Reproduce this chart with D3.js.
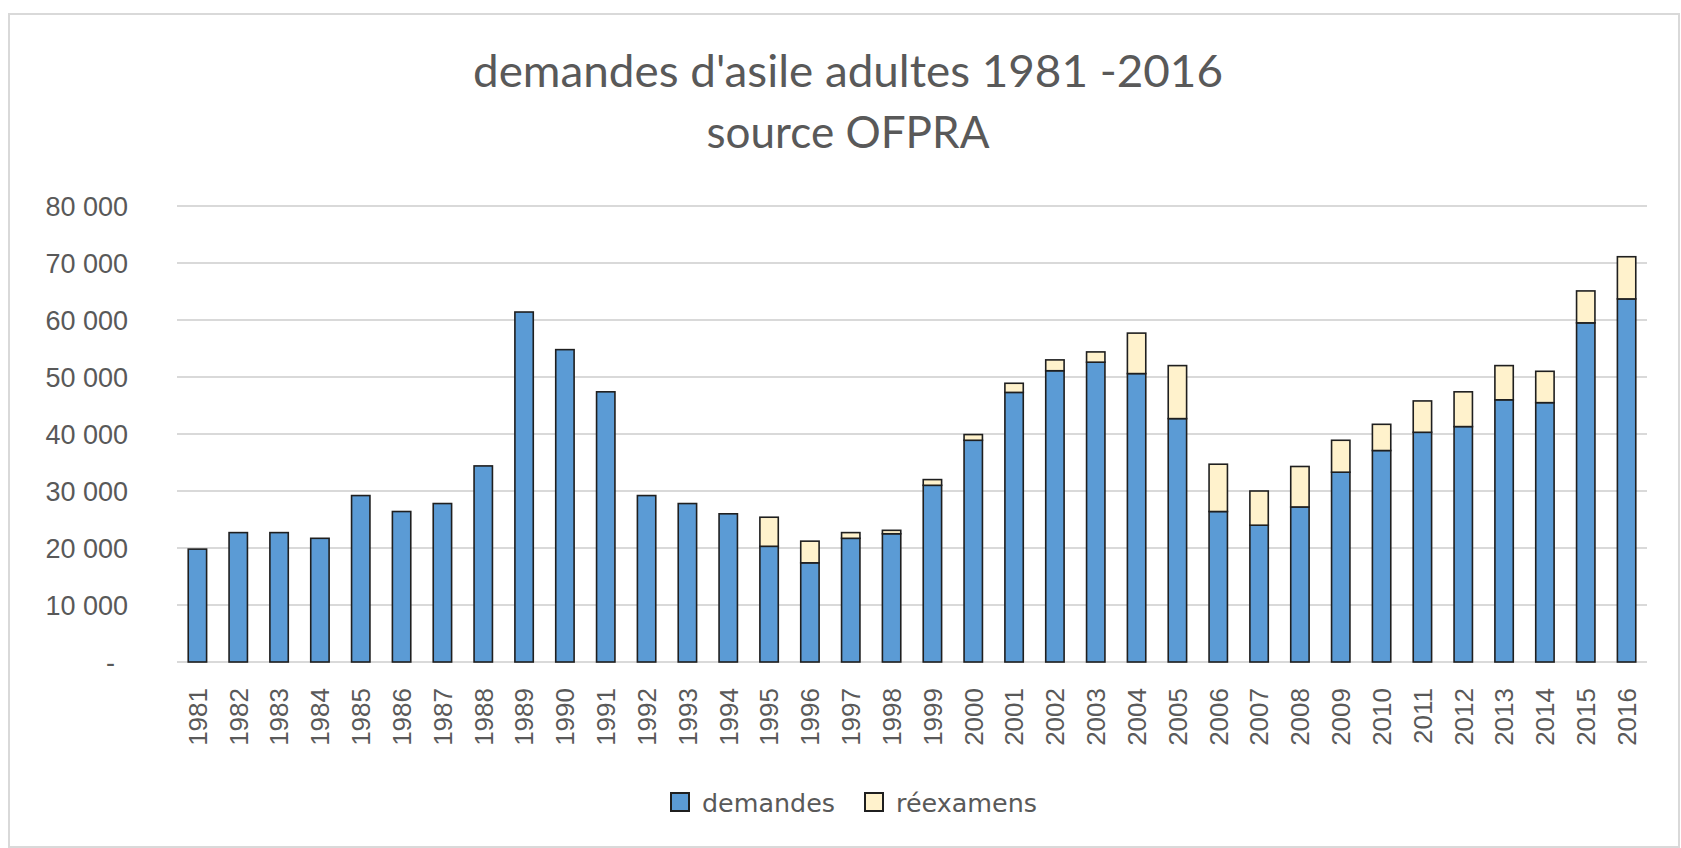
<!DOCTYPE html>
<html>
<head>
<meta charset="utf-8">
<script src="https://cdn.jsdelivr.net/npm/d3@7"></script>
<style>
  html, body { margin: 0; padding: 0; background: #ffffff; }
  svg { display: block; }
</style>
</head>
<body>
<svg id="chart" width="1681" height="848"></svg>
<script>
// ---- Data ----
const years = ["1981","1982","1983","1984","1985","1986","1987","1988","1989","1990",
  "1991","1992","1993","1994","1995","1996","1997","1998","1999","2000",
  "2001","2002","2003","2004","2005","2006","2007","2008","2009","2010",
  "2011","2012","2013","2014","2015","2016"];
const demandes = [19800, 22700, 22700, 21700, 29200, 26400, 27800, 34400, 61400, 54800,
  47400, 29200, 27800, 26000, 20300, 17400, 21700, 22500, 31000, 38900,
  47300, 51100, 52600, 50600, 42700, 26400, 24000, 27200, 33300, 37100,
  40300, 41300, 46000, 45500, 59500, 63700];
const reexamens = [0, 0, 0, 0, 0, 0, 0, 0, 0, 0,
  0, 0, 0, 0, 5100, 3800, 1000, 600, 1000, 1000,
  1600, 1900, 1800, 7100, 9300, 8300, 6000, 7100, 5600, 4600,
  5500, 6100, 6000, 5500, 5600, 7400];
const seriesNames = ["demandes", "réexamens"];
const seriesColors = ["#5B9BD5", "#FFF2CC"];
const yTickValues = [0, 10000, 20000, 30000, 40000, 50000, 60000, 70000, 80000];
const yTickLabels = ["-", "10 000", "20 000", "30 000", "40 000", "50 000", "60 000", "70 000", "80 000"];
const titleLines = ["demandes d'asile adultes 1981 -2016", "source OFPRA"];

// ---- Setup ----
const svg = d3.select("#chart");
const textColor = "#595959";

// chart frame
svg.append("rect")
  .attr("x", 9).attr("y", 14).attr("width", 1670).attr("height", 833)
  .attr("fill", "#ffffff").attr("stroke", "#d9d9d9").attr("stroke-width", 2);

const x = d3.scaleBand().domain(years).range([177, 1647]).paddingInner(0.55).paddingOuter(0.275);
const y = d3.scaleLinear().domain([0, 80000]).range([662, 206]);

// gridlines
svg.append("g").selectAll("line")
  .data(yTickValues)
  .join("line")
  .attr("x1", 177).attr("x2", 1647)
  .attr("y1", d => y(d)).attr("y2", d => y(d))
  .attr("stroke", "#d9d9d9").attr("stroke-width", 2);

// y axis labels
const yAxis = d3.axisLeft(y)
  .tickValues(yTickValues)
  .tickFormat((d, i) => yTickLabels[i])
  .tickSize(0)
  .tickPadding(0);
const gy = svg.append("g").attr("transform", "translate(128,0)").call(yAxis);
gy.select(".domain").remove();
gy.selectAll("text")
  .attr("fill", textColor)
  .style("font-family", "'Liberation Sans', Arial, sans-serif")
  .style("font-size", "27px")
  .attr("dy", "0.35em")
  .attr("dx", d => d === 0 ? -13 : 0);

// stacked bars
const table = years.map((yr, i) => ({ year: yr, demandes: demandes[i], "réexamens": reexamens[i] }));
const stacked = d3.stack().keys(seriesNames)(table);

svg.append("g").selectAll("g")
  .data(stacked)
  .join("g")
  .attr("fill", (d, i) => seriesColors[i])
  .selectAll("rect")
  .data(d => d.filter(s => s[1] - s[0] > 0))
  .join("rect")
  .attr("x", d => x(d.data.year))
  .attr("width", x.bandwidth())
  .attr("y", d => y(d[1]))
  .attr("height", d => y(d[0]) - y(d[1]))
  .attr("stroke", "#1f1f1f")
  .attr("stroke-width", 1.6);

// x axis labels (rotated)
const xAxis = d3.axisBottom(x).tickSize(0).tickPadding(0);
const gx = svg.append("g").attr("transform", "translate(0,688)").call(xAxis);
gx.select(".domain").remove();
gx.selectAll("text")
  .attr("fill", textColor)
  .style("font-family", "'Liberation Sans', Arial, sans-serif")
  .style("font-size", "26px")
  .attr("transform", "rotate(-90)")
  .attr("text-anchor", "end")
  .attr("x", 0)
  .attr("y", 0)
  .attr("dy", "0.36em");

// title
const titleY = [87, 148];
const titleW = [750, 283];
svg.append("g").selectAll("text")
  .data(titleLines)
  .join("text")
  .attr("x", 848)
  .attr("y", (d, i) => titleY[i])
  .attr("text-anchor", "middle")
  .attr("fill", textColor)
  .attr("textLength", (d, i) => titleW[i])
  .attr("lengthAdjust", "spacingAndGlyphs")
  .style("font-family", "Lato, 'Open Sans', sans-serif")
  .style("font-size", "44px")
  .text(d => d);

// legend
const legendX = [670, 864];
const legendTextW = [133, 141];
const lg = svg.append("g").selectAll("g")
  .data(seriesNames)
  .join("g")
  .attr("transform", (d, i) => `translate(${legendX[i]},793)`);
lg.append("rect")
  .attr("x", 1).attr("y", 0).attr("width", 18).attr("height", 18)
  .attr("fill", (d, i) => seriesColors[i])
  .attr("stroke", "#1f1f1f").attr("stroke-width", 2);
lg.append("text")
  .attr("x", 32).attr("y", 19)
  .attr("fill", textColor)
  .attr("textLength", (d, i) => legendTextW[i])
  .attr("lengthAdjust", "spacingAndGlyphs")
  .style("font-family", "'DejaVu Sans', Verdana, sans-serif")
  .style("font-size", "25px")
  .text(d => d);
</script>
</body>
</html>
